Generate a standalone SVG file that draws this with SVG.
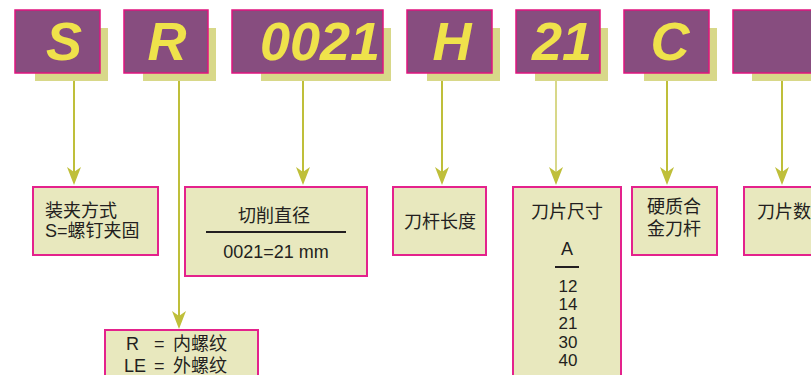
<svg xmlns="http://www.w3.org/2000/svg" width="811" height="375" viewBox="0 0 811 375">
<defs>
<style>
.shadow{fill:#D8D889;}
.code{fill:#874D7F;stroke:#E0157F;stroke-width:1.5;}
.ltr{font-family:"Liberation Sans",Arial,sans-serif;font-weight:bold;font-style:italic;font-size:54px;fill:#EFE24B;text-anchor:middle;}
.lbl{fill:#E8E8BE;stroke:#E4228C;stroke-width:2;}
.t{font-family:"Liberation Sans","Noto Sans CJK SC",sans-serif;font-size:18px;fill:#231F20;}
.n{font-size:17px;}
.c{text-anchor:middle;}
.ln{stroke:#BFBF3A;stroke-width:2;fill:none;}
.ah{fill:#BFBF3A;}
.rule{stroke:#231F20;stroke-width:2;}
</style>
</defs>
<rect width="811" height="375" fill="#FFFFFF"/>
<g id="code-S"><rect class="shadow" x="35" y="28" width="73" height="53"/><rect class="code" x="15" y="10" width="85" height="63"/><text class="ltr" x="64" y="60">S</text></g>
<g id="code-R"><rect class="shadow" x="143" y="28" width="73" height="53"/><rect class="code" x="124" y="10" width="84" height="63"/><text class="ltr" x="167" y="60">R</text></g>
<g id="code-0021"><rect class="shadow" x="261" y="28" width="130" height="53"/><rect class="code" x="232" y="10" width="151" height="63"/><text class="ltr" x="320" y="60">0021</text></g>
<g id="code-H"><rect class="shadow" x="427" y="28" width="73" height="53"/><rect class="code" x="407" y="10" width="85" height="63"/><text class="ltr" x="452" y="60">H</text></g>
<g id="code-21"><rect class="shadow" x="535" y="28" width="73" height="53"/><rect class="code" x="516" y="10" width="84" height="63"/><text class="ltr" x="562" y="60">21</text></g>
<g id="code-C"><rect class="shadow" x="644" y="28" width="73" height="53"/><rect class="code" x="624" y="10" width="85" height="63"/><text class="ltr" x="670" y="60">C</text></g>
<g id="code-blank"><rect class="shadow" x="752" y="28" width="70" height="53"/><rect class="code" x="733" y="10" width="90" height="63"/></g>

<g id="connectors">
<line class="ln" x1="74" y1="81" x2="74" y2="172"/><polygon class="ah" points="67,167 74,172 81,167 74,185"/>
<line class="ln" x1="179" y1="81" x2="179" y2="316"/><polygon class="ah" points="172,311 179,316 186,311 179,329"/>
<line class="ln" x1="303" y1="81" x2="303" y2="172"/><polygon class="ah" points="296,167 303,172 310,167 303,185"/>
<line class="ln" x1="442" y1="81" x2="442" y2="172"/><polygon class="ah" points="435,167 442,172 449,167 442,185"/>
<line class="ln" x1="556" y1="81" x2="556" y2="172" style="stroke:#D8D889"/><polygon class="ah" points="549,167 556,172 563,167 556,185"/>
<line class="ln" x1="667" y1="81" x2="667" y2="172"/><polygon class="ah" points="660,167 667,172 674,167 667,185"/>
<line class="ln" x1="782" y1="81" x2="782" y2="172"/><polygon class="ah" points="775,167 782,172 789,167 782,185"/>
</g>

<g id="lbl-clamp"><rect class="lbl" x="33" y="187" width="125" height="68"/>
<text class="t" x="45" y="217">装夹方式</text><text class="t" x="45" y="237">S=螺钉夹固</text></g>
<g id="lbl-diameter"><rect class="lbl" x="185" y="187" width="182" height="89"/>
<text class="t c" x="274" y="222">切削直径</text><line class="rule" x1="206" y1="232" x2="346" y2="232"/><text class="t c" x="276" y="258">0021=21 mm</text></g>
<g id="lbl-length"><rect class="lbl" x="393" y="187" width="93" height="68"/><text class="t c" x="440" y="228">刀杆长度</text></g>
<g id="lbl-insert"><rect class="lbl" x="513" y="187" width="108" height="200"/>
<text class="t c" x="567" y="218">刀片尺寸</text><text class="t c" x="567" y="255">A</text><line class="rule" x1="555" y1="267" x2="579" y2="267"/>
<text class="t n c" x="568" y="292">12</text><text class="t n c" x="568" y="310">14</text><text class="t n c" x="568" y="329">21</text><text class="t n c" x="568" y="348">30</text><text class="t n c" x="568" y="366">40</text></g>
<g id="lbl-carbide"><rect class="lbl" x="632" y="187" width="85" height="68"/>
<text class="t c" x="674" y="213">硬质合</text><text class="t c" x="674" y="235">金刀杆</text></g>
<g id="lbl-count"><rect class="lbl" x="744" y="187" width="80" height="68"/><text class="t" x="757" y="218">刀片数</text></g>
<g id="lbl-thread"><rect class="lbl" x="105" y="330" width="153" height="60"/>
<text class="t" x="126" y="350">R</text><text class="t" x="154" y="350">=</text><text class="t" x="173" y="350">内螺纹</text>
<text class="t" x="124" y="372">LE</text><text class="t" x="154" y="372">=</text><text class="t" x="173" y="372">外螺纹</text></g>
</svg>
